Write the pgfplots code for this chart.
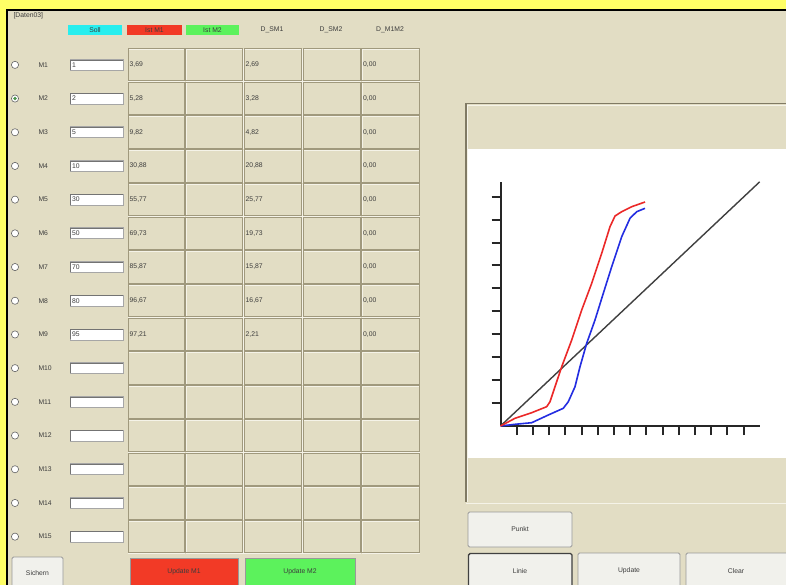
\documentclass[border=0pt]{standalone}
\usepackage{pgfplots}
\pgfplotsset{compat=1.18}
\usepackage{fontspec}
\setmainfont{Liberation Sans}
\definecolor{bgyellow}{RGB}{255,255,102}
\definecolor{panel}{RGB}{226,221,196}
\definecolor{cellline}{RGB}{160,153,125}
\definecolor{cellhi}{RGB}{245,243,232}
\definecolor{cyanbox}{RGB}{40,238,238}
\definecolor{redbox}{RGB}{242,58,38}
\definecolor{greenbox}{RGB}{92,242,92}
\definecolor{btn}{RGB}{241,241,236}
\definecolor{txt}{RGB}{60,60,60}
\definecolor{curvered}{RGB}{235,40,40}
\definecolor{curveblue}{RGB}{35,45,225}
\begin{document}
\begin{tikzpicture}[font=\fontsize{6.8}{7.5}\selectfont]
\begin{scope}[x=1pt,y=-1pt]
\useasboundingbox (0,0) rectangle (786,585);
\fill[bgyellow] (0,0) rectangle (786,585);
\fill[panel] (7,10) rectangle (786,585);
\draw[black,line width=2] (7,585) -- (7,10) -- (786,10);
% title
\node[anchor=west,text=txt] at (10,16) {[Daten03]};
% header
\fill[cyanbox] (68,25) rectangle (122,35);
\node[text=txt] at (95,30) {Soll};
\fill[redbox] (127,25) rectangle (182,35);
\node[text=txt] at (154.5,30) {Ist M1};
\fill[greenbox] (186,25) rectangle (239,35);
\node[text=txt] at (212.5,30) {Ist M2};
\node[text=txt] at (272,30) {D\_SM1};
\node[text=txt] at (331,30) {D\_SM2};
\node[text=txt] at (390,30) {D\_M1M2};
% grid cells
\foreach \xa/\xb in {127.5/185,185/243.5,243.5/302.5,302.5/361,361/420}{
  \foreach \r in {0,...,14}{
    \draw[cellhi,line width=0.8] ({\xa+1.2},{48+33.7*\r+1.2}) rectangle ({\xb-0.2},{48+33.7*\r+33.7-0.2});
    \draw[cellline,line width=0.8] ({\xa+0.5},{48+33.7*\r+0.5}) rectangle ({\xb-0.8},{48+33.7*\r+33.7-0.8});
  }
}
% rows
\foreach \k/\soll/\ist/\dsm/\dmm in {1/1/{3,69}/{2,69}/{0,00}, 2/2/{5,28}/{3,28}/{0,00}, 3/5/{9,82}/{4,82}/{0,00}, 4/10/{30,88}/{20,88}/{0,00}, 5/30/{55,77}/{25,77}/{0,00}, 6/50/{69,73}/{19,73}/{0,00}, 7/70/{85,87}/{15,87}/{0,00}, 8/80/{96,67}/{16,67}/{0,00}, 9/95/{97,21}/{2,21}/{0,00}, 10/{}/{}/{}/{}, 11/{}/{}/{}/{}, 12/{}/{}/{}/{}, 13/{}/{}/{}/{}, 14/{}/{}/{}/{}, 15/{}/{}/{}/{}}{
  \pgfmathsetmacro{\yy}{64.85+33.7*(\k-1)}
  \draw[gray!80!black,fill=white,line width=0.6] (15,\yy) circle (3.6);
  \node[anchor=west,text=txt] at (35,\yy) {M\k};
  \draw[gray!70,fill=white,line width=0.8] (70,{\yy-5.5}) rectangle (123,{\yy+5.5});
  \draw[gray!90!black,line width=0.6] (70.5,{\yy+5}) -- (70.5,{\yy-5}) -- (122.5,{\yy-5});
  \node[anchor=west,text=txt,inner sep=0] at (72,\yy) {\soll};
  \node[anchor=west,text=txt,inner sep=0] at (129.5,\yy) {\ist};
  \node[anchor=west,text=txt,inner sep=0] at (245.5,\yy) {\dsm};
  \node[anchor=west,text=txt,inner sep=0] at (363,\yy) {\dmm};
}
\fill[green!40!black!70] (15,98.55) circle (1.8);
% bottom buttons
\draw[gray!80,fill=btn,rounded corners=1.5,line width=0.8] (12,557) rectangle (63,590);
\node[text=txt] at (37.5,573) {Sichern};
\draw[gray!80,fill=redbox,line width=0.8] (130,558) rectangle (238,590);
\node[text=txt] at (184,572) {Update M1};
\draw[gray!80,fill=greenbox,line width=0.8] (245,558) rectangle (355,590);
\node[text=txt] at (300,572) {Update M2};
% right panel frame
\draw[cellline!80!black,line width=1.2] (466,502) -- (466,103.5) -- (786,103.5);
\draw[cellhi,line width=0.8] (467.5,502) -- (467.5,105) -- (786,105);
\fill[white] (468,149) rectangle (786,458);
\draw[cellhi,line width=1] (466,503.5) -- (786,503.5);
% right buttons
\draw[gray!80,fill=btn,rounded corners=1.5,line width=0.8] (468,512) rectangle (572,547);
\node[text=txt] at (520,529.5) {Punkt};
\draw[black!75,fill=btn,rounded corners=1.5,line width=1.4] (468.5,553.5) rectangle (572,590);
\node[text=txt] at (520,571) {Linie};
\draw[gray!80,fill=btn,rounded corners=1.5,line width=0.8] (578,553) rectangle (680,590);
\node[text=txt] at (629,571) {Update};
\draw[gray!80,fill=btn,rounded corners=1.5,line width=0.8] (686,553) rectangle (790,590);
\node[text=txt] at (736,571) {Clear};
\end{scope}
% chart
\begin{axis}[at={(500.5pt,-426pt)}, anchor=south west, scale only axis,
  width=259.2pt, height=244.2pt,
  xmin=0, xmax=16, ymin=0, ymax=10.65,
  axis x line*=bottom, axis y line*=left,
  xtick={1,...,15}, ytick={1,...,10},
  xticklabels={}, yticklabels={},
  tick align=outside, major tick length=9pt,
  tick style={black!85, line width=2pt},
  axis line style={black!85, line width=2pt},
  clip=false]
\addplot[black!75, line width=1.4pt] coordinates {(0,0) (16,10.65)};
\addplot[curveblue, line width=1.6pt, line join=round] coordinates {
(0,0) (0.895,0.074) (1.926,0.144) (2.951,0.480) (3.877,0.772) (4.185,1.060)
(4.599,1.714) (4.907,2.586) (5.321,3.607) (5.833,4.623) (6.346,5.787)
(6.864,6.947) (7.481,8.256) (7.994,9.058) (8.407,9.346) (8.920,9.494)};
\addplot[curvered, line width=1.6pt, line join=round] coordinates {
(0,0) (0.895,0.336) (1.926,0.580) (2.852,0.842) (3.056,1.060) (3.364,1.714)
(3.778,2.586) (4.395,3.750) (5.012,5.059) (5.630,6.223) (6.247,7.532)
(6.759,8.692) (7.068,9.158) (7.481,9.346) (8.099,9.564) (8.920,9.769)};
\end{axis}
\end{tikzpicture}
\end{document}
